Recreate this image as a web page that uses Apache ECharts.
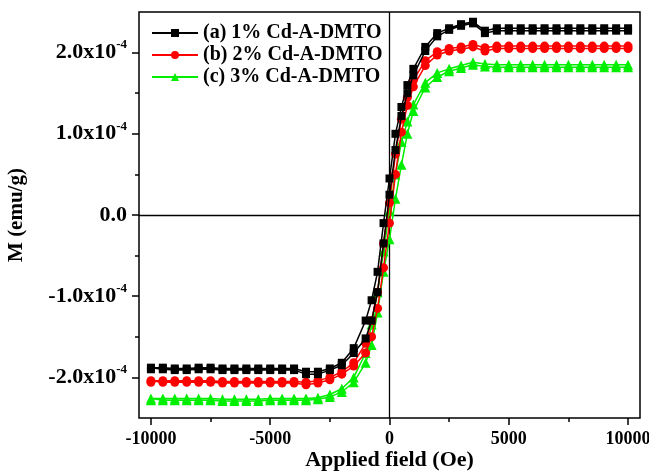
<!DOCTYPE html>
<html>
<head>
<meta charset="utf-8">
<script src="https://cdn.jsdelivr.net/npm/echarts@6/dist/echarts.min.js"></script>
<style>html,body{margin:0;padding:0;background:#fff;}#c{width:649px;height:471px;}</style>
</head>
<body>
<div id="c"></div>
<script>
// Applied field (Oe)
const fieldOe = [-10000,-9500,-9000,-8500,-8000,-7500,-7000,-6500,-6000,-5500,-5000,-4500,-4000,-3500,-3000,-2500,-2000,-1500,
  -1000,-750,-500,-250,0,250,500,750,1000,
  1500,2000,2500,3000,3500,4000,4500,5000,5500,6000,6500,7000,7500,8000,8500,9000,9500,10000];
// Magnetisation, in units of 1e-4 emu/g (listed in the same field order as fieldOe)
const seriesNames = ['(a) 1% Cd-A-DMTO', '(b) 2% Cd-A-DMTO', '(c) 3% Cd-A-DMTO'];
const mA_up = [-1.90,-1.90,-1.91,-1.91,-1.90,-1.90,-1.91,-1.91,-1.91,-1.91,-1.91,-1.91,-1.91,-1.96,-1.96,-1.91,-1.85,-1.70,
  -1.52,-1.30,-0.95,-0.35,0.25,0.80,1.22,1.50,1.72,
  2.02,2.20,2.28,2.33,2.36,2.24,2.27,2.27,2.27,2.27,2.27,2.27,2.27,2.27,2.27,2.27,2.27,2.27];
const mA_down = [-1.88,-1.88,-1.89,-1.89,-1.88,-1.88,-1.89,-1.89,-1.89,-1.89,-1.89,-1.89,-1.89,-1.93,-1.93,-1.89,-1.82,-1.64,
  -1.30,-1.05,-0.70,-0.10,0.45,1.00,1.33,1.60,1.80,
  2.07,2.24,2.30,2.35,2.38,2.27,2.30,2.30,2.30,2.30,2.30,2.30,2.30,2.30,2.30,2.30,2.30,2.30];
const mB_up = [-2.06,-2.06,-2.06,-2.06,-2.06,-2.06,-2.07,-2.07,-2.07,-2.07,-2.07,-2.07,-2.07,-2.09,-2.07,-2.03,-1.96,-1.86,
  -1.70,-1.50,-1.15,-0.65,-0.10,0.50,1.02,1.35,1.58,
  1.84,1.97,2.02,2.04,2.07,2.02,2.05,2.05,2.05,2.05,2.05,2.05,2.05,2.05,2.05,2.05,2.05,2.05];
const mB_down = [-2.04,-2.04,-2.04,-2.04,-2.04,-2.04,-2.05,-2.05,-2.05,-2.05,-2.05,-2.05,-2.05,-2.06,-2.04,-2.00,-1.93,-1.82,
  -1.58,-1.30,-0.95,-0.35,0.15,0.75,1.18,1.45,1.66,
  1.90,2.01,2.05,2.07,2.10,2.06,2.08,2.08,2.08,2.08,2.08,2.08,2.08,2.08,2.08,2.08,2.08,2.08];
const mC_up = [-2.28,-2.28,-2.28,-2.28,-2.28,-2.28,-2.29,-2.29,-2.29,-2.29,-2.28,-2.28,-2.28,-2.28,-2.27,-2.24,-2.18,-2.06,
  -1.82,-1.60,-1.20,-0.70,-0.30,0.20,0.62,1.00,1.28,
  1.57,1.70,1.77,1.81,1.85,1.83,1.82,1.82,1.82,1.82,1.82,1.82,1.82,1.82,1.82,1.82,1.82,1.82];
const mC_down = [-2.26,-2.26,-2.26,-2.26,-2.26,-2.26,-2.27,-2.27,-2.27,-2.27,-2.26,-2.26,-2.26,-2.26,-2.25,-2.21,-2.14,-2.00,
  -1.70,-1.35,-0.95,-0.45,0.05,0.50,0.90,1.15,1.36,
  1.63,1.75,1.80,1.84,1.88,1.86,1.85,1.85,1.85,1.85,1.85,1.85,1.85,1.85,1.85,1.85,1.85,1.85];
const xLabelValues = [-10000,-5000,0,5000,10000];
const xMinorValues = [-7500,-2500,2500,7500];
const yLabelValues = [-2,-1,0,1,2];
const yMinorValues = [-1.5,-0.5,0.5,1.5];

function loop(up, down) {
  const pts = [];
  for (let i = fieldOe.length - 1; i >= 0; i--) pts.push([fieldOe[i], down[i]]);
  for (let i = 0; i < fieldOe.length; i++) pts.push([fieldOe[i], up[i]]);
  return pts;
}

const FONT = 'Liberation Serif';
const chart = echarts.init(document.getElementById('c'), null, {renderer: 'canvas'});
const colors = ['#000000', '#ff0000', '#00ee00'];
const symbols = ['rect', 'circle', 'triangle'];
const sizes = [8, 9, 10];
const data = [loop(mA_up, mA_down), loop(mB_up, mB_down), loop(mC_up, mC_down)];

const series = data.map((d, i) => ({
  name: seriesNames[i],
  type: 'line',
  xAxisIndex: 0,
  yAxisIndex: 0,
  data: d,
  symbol: symbols[i],
  symbolSize: sizes[i],
  showAllSymbol: true,
  itemStyle: {color: colors[i]},
  lineStyle: {color: colors[i], width: 1.5},
  z: 5 - i
}));
series[0].markLine = {
  silent: true,
  symbol: ['none', 'none'],
  label: {show: false},
  lineStyle: {color: '#000', width: 1.3, type: 'solid'},
  data: [{xAxis: 0}, {yAxis: 0}],
  z: 1
};

const baseX = {type: 'value', min: -10500, max: 10500, splitLine: {show: false}, axisLine: {show: false, onZero: false}};
const baseY = {type: 'value', min: -2.5, max: 2.5, splitLine: {show: false}, axisLine: {show: false, onZero: false}};

chart.setOption({
  animation: false,
  backgroundColor: '#fff',
  grid: {left: 139, right: 9, top: 12, bottom: 53, containLabel: false, outerBoundsMode: 'none',
    show: true, borderColor: '#000', borderWidth: 1.5, backgroundColor: 'transparent'},
  legend: {
    orient: 'vertical', left: 146, top: 18, itemWidth: 46, itemHeight: 10, itemGap: 2,
    textStyle: {fontFamily: FONT, fontWeight: 'bold', fontSize: 20, color: '#000'},
    data: seriesNames
  },
  xAxis: [
    Object.assign({}, baseX, {
      position: 'bottom',
      name: 'Applied field (Oe)', nameLocation: 'middle', nameGap: 31, nameMoveOverlap: false,
      nameTextStyle: {fontFamily: FONT, fontWeight: 'bold', fontSize: 22, color: '#000'},
      axisTick: {show: true, length: 7, customValues: xLabelValues, lineStyle: {color: '#000', width: 1.5}},
      axisLabel: {customValues: xLabelValues, margin: 12, formatter: function (v) { return String(v); },
        fontFamily: FONT, fontWeight: 'bold', fontSize: 18, color: '#000'}
    }),
    Object.assign({}, baseX, {
      position: 'bottom',
      axisTick: {show: true, length: 4, customValues: xMinorValues, lineStyle: {color: '#000', width: 1.5}},
      axisLabel: {show: false}
    })
  ],
  yAxis: [
    Object.assign({}, baseY, {
      position: 'left',
      name: 'M (emu/g)', nameLocation: 'middle', nameGap: 112, nameRotate: 90, nameMoveOverlap: false,
      nameTextStyle: {fontFamily: FONT, fontWeight: 'bold', fontSize: 21, color: '#000'},
      axisTick: {show: true, length: 7, customValues: yLabelValues, lineStyle: {color: '#000', width: 1.5}},
      axisLabel: {
        customValues: yLabelValues, margin: 12,
        formatter: function (v) {
          if (Math.abs(v) < 1e-9) return '{m|0.0}';
          return '{m|' + v.toFixed(1) + 'x10}{s|-4}';
        },
        rich: {
          m: {fontFamily: FONT, fontWeight: 'bold', fontSize: 22, color: '#000', lineHeight: 28},
          s: {fontFamily: FONT, fontWeight: 'bold', fontSize: 13, color: '#000', lineHeight: 14, verticalAlign: 'top'}
        }
      }
    }),
    Object.assign({}, baseY, {
      position: 'left',
      axisTick: {show: true, length: 4, customValues: yMinorValues, lineStyle: {color: '#000', width: 1.5}},
      axisLabel: {show: false}
    })
  ],
  series: series
});
</script>
</body>
</html>
